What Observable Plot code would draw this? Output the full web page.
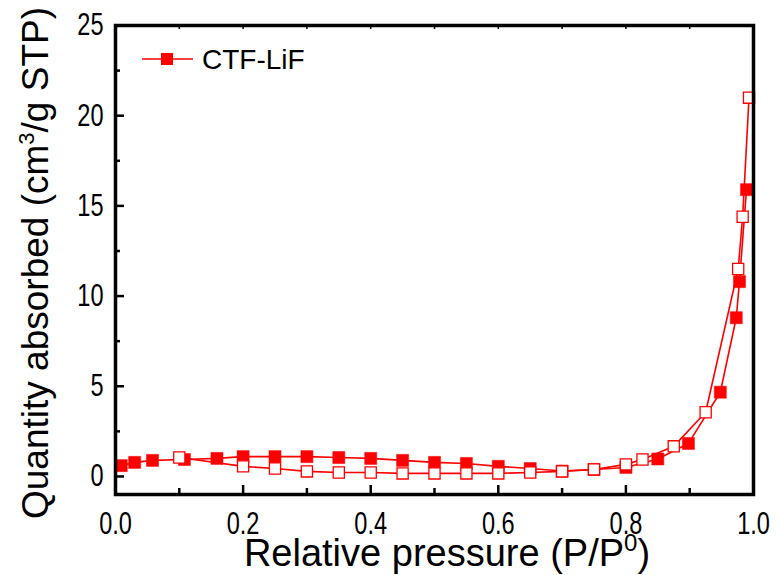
<!DOCTYPE html>
<html><head><meta charset="utf-8">
<script src="https://cdn.jsdelivr.net/npm/d3@7"></script>
<script src="https://cdn.jsdelivr.net/npm/@observablehq/plot@0.6"></script>
<style>
body{margin:0;background:#fff}
svg{font-family:Arial,"Liberation Sans",sans-serif}
</style>
</head><body><div id="chart"></div>
<script>
// Adsorption branch (filled squares)
const adsX = [0.009, 0.03, 0.058, 0.108, 0.159, 0.2, 0.25, 0.3, 0.35, 0.4, 0.45, 0.5, 0.55, 0.6, 0.65, 0.7, 0.75, 0.8, 0.85, 0.898, 0.948, 0.973, 0.978, 0.989];
const adsY = [0.6, 0.78, 0.89, 0.94, 1.0, 1.1, 1.1, 1.1, 1.05, 1.0, 0.89, 0.78, 0.72, 0.56, 0.44, 0.3, 0.39, 0.5, 0.97, 1.83, 4.67, 8.8, 10.8, 15.9];
// Desorption branch (open squares)
const desX = [0.993, 0.983, 0.976, 0.925, 0.875, 0.826, 0.8, 0.75, 0.7, 0.65, 0.6, 0.55, 0.5, 0.45, 0.4, 0.35, 0.3, 0.25, 0.2, 0.1];
const desY = [21.0, 14.4, 11.5, 3.56, 1.67, 0.94, 0.67, 0.39, 0.28, 0.22, 0.17, 0.17, 0.17, 0.17, 0.22, 0.22, 0.28, 0.44, 0.56, 1.05];

const xMajor = [0, 0.2, 0.4, 0.6, 0.8, 1.0];
const xMinor = [0.1, 0.3, 0.5, 0.7, 0.9];
const yMajor = [0, 5, 10, 15, 20, 25];
const yMinor = [2.5, 7.5, 12.5, 17.5, 22.5];
const seriesName = "CTF-LiF";
const xLabel = ["Relative pressure (P/P", "0", ")"];
const yLabel = ["Quantity absorbed (cm", "3", "/g STP)"];

const ads = adsX.map((x, i) => ({x, y: adsY[i]}));
const des = desX.map((x, i) => ({x, y: desY[i]}));
const RED = "#ff0000";

const W = 778, H = 575, ML = 115, MR = 25, MT = 25, MB = 81;
const IW = W - ML - MR, IH = H - MT - MB;

const chart = Plot.plot({
  width: W, height: H,
  marginLeft: ML, marginRight: MR, marginTop: MT, marginBottom: MB,
  x: {domain: [0, 1]},
  y: {domain: [-1, 25]},
  style: {background: "white", color: "black"},
  marks: [
    Plot.line(ads, {x: "x", y: "y", stroke: RED, strokeWidth: 1.6}),
    Plot.dot(ads, {x: "x", y: "y", symbol: "square", r: 6.8, fill: RED, stroke: RED, strokeWidth: 0.5}),
    Plot.line(des, {x: "x", y: "y", stroke: RED, strokeWidth: 1.6}),
    Plot.dot(des, {x: "x", y: "y", symbol: "square", r: 6.3, fill: "white", stroke: RED, strokeWidth: 1.3}),
    // inward tick marks drawn as Plot tick marks with insets
    Plot.tickX(xMajor, {x: d => d, insetTop: IH - 9, stroke: "#000", strokeWidth: 2.5}),
    Plot.tickX(xMinor, {x: d => d, insetTop: IH - 6, stroke: "#000", strokeWidth: 2.5}),
    Plot.tickX([...xMajor, ...xMinor], {x: d => d, insetBottom: IH - 4, stroke: "#000", strokeWidth: 1.5}),
    Plot.tickY(yMajor, {y: d => d, insetRight: IW - 9, stroke: "#000", strokeWidth: 2.5}),
    Plot.tickY(yMinor, {y: d => d, insetRight: IW - 5, stroke: "#000", strokeWidth: 2.5}),
    // tick labels
    Plot.axisX(xMajor, {tickSize: 0, tickPadding: 17, tickFormat: d3.format(".1f"), fontSize: 31, label: null}),
    Plot.axisY(yMajor, {tickSize: 0, tickPadding: 12, tickFormat: d3.format("d"), fontSize: 31, label: null}),
    Plot.frame({stroke: "black", strokeWidth: 3.5})
  ]
});
document.getElementById("chart").appendChild(chart);

const svg = d3.select(chart);

// condense tick label glyphs horizontally, as in the reference
svg.selectAll('g[aria-label$="tick label"] text').each(function() {
  const t = this.getAttribute("transform") || "";
  this.setAttribute("transform", t + " scale(0.76,1)");
});
// x label
const xl = svg.append("text").attr("x", 447).attr("y", 566).attr("text-anchor", "middle")
  .style("font-size", "38px").attr("fill", "black");
xl.append("tspan").text(xLabel[0]);
xl.append("tspan").attr("dy", -15).style("font-size", "24px").text(xLabel[1]);
xl.append("tspan").attr("dy", 15).text(xLabel[2]);
// y label
const yl = svg.append("text").attr("transform", "translate(48,263) rotate(-90)").attr("text-anchor", "middle")
  .style("font-size", "37px").attr("fill", "black");
yl.append("tspan").text(yLabel[0]);
yl.append("tspan").attr("dy", -14).style("font-size", "22px").text(yLabel[1]);
yl.append("tspan").attr("dy", 14).text(yLabel[2]);
// legend
const lg = svg.append("g");
lg.append("line").attr("x1", 142).attr("x2", 193).attr("y1", 59).attr("y2", 59).attr("stroke", RED).attr("stroke-width", 1.6);
lg.append("rect").attr("x", 161).attr("y", 53).attr("width", 12).attr("height", 12).attr("fill", RED);
lg.append("text").attr("x", 202).attr("y", 69).attr("text-anchor", "start").style("font-size", "28px").attr("fill", "black").text(seriesName);
</script>
</body></html>
